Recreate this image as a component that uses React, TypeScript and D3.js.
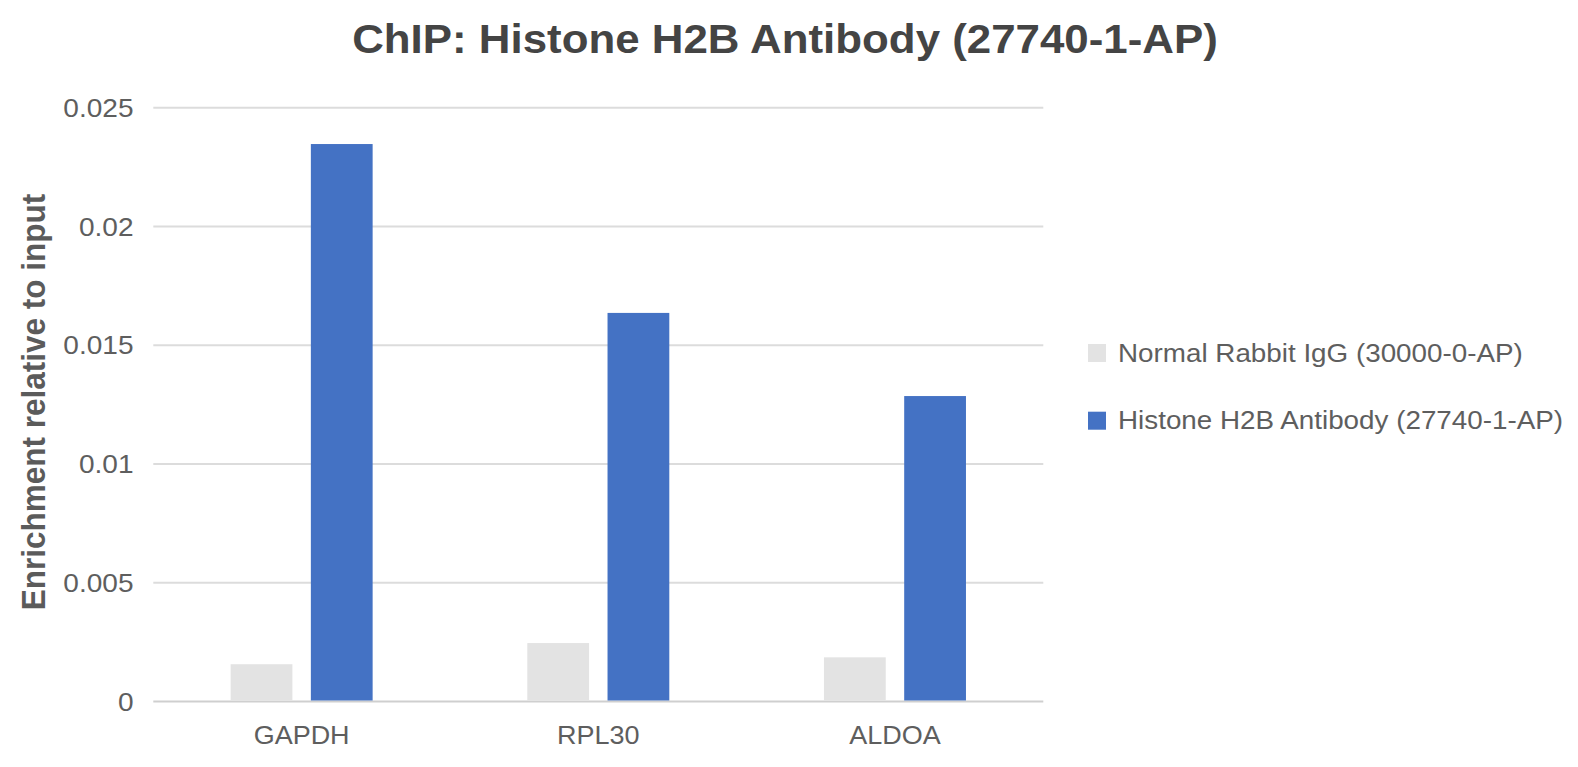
import * as d3 from 'd3';
import React, { FC, useEffect } from 'react';

const categories = ['GAPDH', 'RPL30', 'ALDOA'];
const seriesNames = ['Normal Rabbit IgG (30000-0-AP)', 'Histone H2B Antibody (27740-1-AP)'];
const iggValues = [0.00157, 0.00246, 0.00186];
const h2bValues = [0.02347, 0.01636, 0.01286];
const yTicks = [0, 0.005, 0.01, 0.015, 0.02, 0.025];
const seriesColors = ['#e3e3e3', '#4472c4'];

const ChipChart: FC = () => {
	const containerDiv = React.useRef<HTMLDivElement>(null);
	const { width, height } = { width: 1578, height: 767 };
	const margin = { top: 107.7, right: 534.7, bottom: 65.5, left: 153.3 };
	const font = '"Liberation Sans", Arial, Helvetica, sans-serif';
	const stretch = 1.08;

	useEffect(() => {
		const rows = categories.map((c, i) => ({ name: c, values: [iggValues[i], h2bValues[i]] }));

		const x: any = d3
			.scaleBand()
			.domain(categories)
			.range([margin.left, width - margin.right])
			.paddingInner(0)
			.paddingOuter(0);

		const groupHalf = 71;
		const x1: any = d3
			.scaleBand()
			.domain(seriesNames)
			.range([x.bandwidth() / 2 - groupHalf, x.bandwidth() / 2 + groupHalf])
			.paddingInner(0.23);

		const y: any = d3
			.scaleLinear()
			.domain([0, 0.025])
			.range([height - margin.bottom, margin.top]);

		const svg = d3
			.create('svg')
			.attr('width', width)
			.attr('height', height)
			.attr('viewBox', `0 0 ${width} ${height}`)
			.style('position', 'absolute')
			.style('left', '0px')
			.style('top', '0px')
			.style('background', '#ffffff');

		// gridlines
		svg.append('g')
			.selectAll('line')
			.data(yTicks)
			.join('line')
			.attr('x1', margin.left)
			.attr('x2', width - margin.right)
			.attr('y1', (d: any) => y(d))
			.attr('y2', (d: any) => y(d))
			.attr('stroke', (d: any) => (d === 0 ? '#cfcfcf' : '#dcdcdc'))
			.attr('stroke-width', 2);

		// y tick labels
		svg.append('g')
			.attr('font-family', font)
			.attr('font-size', 25.5)
			.attr('fill', '#5e5e5e')
			.attr('text-anchor', 'end')
			.selectAll('text')
			.data(yTicks)
			.join('text')
			.attr('transform', (d: any) => `translate(133.5,${y(d) + 9.2}) scale(1.1,1)`)
			.text((d: any) => (d === 0 ? '0' : String(d)));

		// bars
		svg.append('g')
			.selectAll('g')
			.data(rows)
			.join('g')
			.attr('transform', (d: any) => `translate(${x(d.name)},0)`)
			.selectAll('rect')
			.data((d: any) => d.values.map((v: number, i: number) => ({ key: seriesNames[i], value: v, color: seriesColors[i] })))
			.join('rect')
			.attr('x', (d: any) => x1(d.key))
			.attr('y', (d: any) => y(d.value))
			.attr('width', x1.bandwidth())
			.attr('height', (d: any) => y(0) - y(d.value) - 1)
			.attr('fill', (d: any) => d.color);

		// x labels
		svg.append('g')
			.attr('font-family', font)
			.attr('font-size', 25)
			.attr('fill', '#5e5e5e')
			.attr('text-anchor', 'middle')
			.selectAll('text')
			.data(categories)
			.join('text')
			.attr('transform', (d: any) => `translate(${x(d) + x.bandwidth() / 2},744) scale(${stretch},1)`)
			.text((d: any) => d);

		// title
		svg.append('text')
			.attr('font-family', font)
			.attr('font-size', 41)
			.attr('font-weight', 'bold')
			.attr('fill', '#444444')
			.attr('text-anchor', 'middle')
			.attr('transform', `translate(785,52.7) scale(1.07,1)`)
			.text('ChIP: Histone H2B Antibody (27740-1-AP)');

		// y axis title
		svg.append('text')
			.attr('font-family', font)
			.attr('font-size', 31.5)
			.attr('font-weight', 'bold')
			.attr('fill', '#5b5b5b')
			.attr('text-anchor', 'middle')
			.attr('transform', `translate(45,402) rotate(-90) scale(1,${stretch})`)
			.text('Enrichment relative to input');

		// legend
		const legend = svg.append('g')
			.selectAll('g')
			.data(seriesNames)
			.join('g')
			.attr('transform', (d: any, i: number) => `translate(1088,${344 + i * 67.7})`);

		legend.append('rect')
			.attr('width', 18)
			.attr('height', 18)
			.attr('fill', (d: any, i: number) => seriesColors[i]);

		legend.append('text')
			.attr('font-family', font)
			.attr('font-size', 26)
			.attr('fill', '#5e5e5e')
			.attr('transform', `translate(30,17.7) scale(1.07,1)`)
			.text((d: any) => d);

		const node = svg.node();
		const container: HTMLDivElement = containerDiv.current as HTMLDivElement;
		if (container && node) {
			container.firstChild && container.removeChild(container.firstChild);
			container.appendChild(node);
		}
	}, []);

	return <div ref={containerDiv}></div>;
};

export default function App() {
	return <ChipChart />;
}
